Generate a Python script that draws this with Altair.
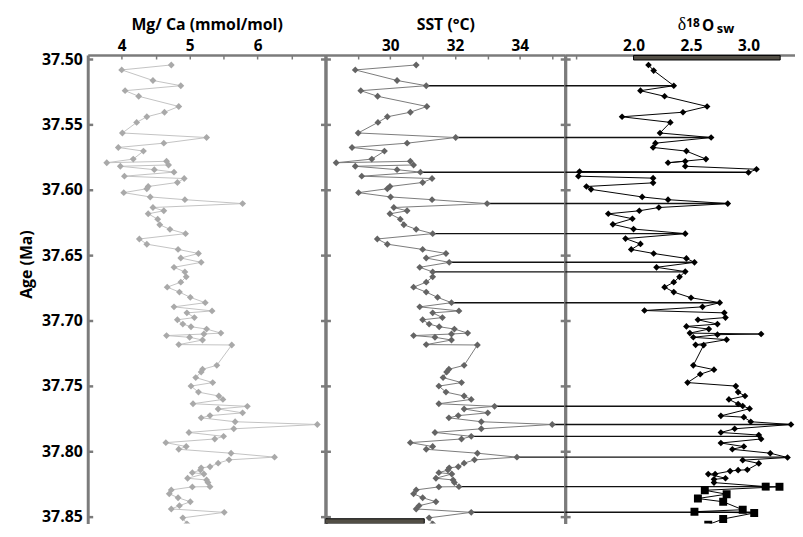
import altair as alt
import pandas as pd

# ---------------- data ----------------
age = [37.5042, 37.5080, 37.5161, 37.5201, 37.5239, 37.5282, 37.5360, 37.5404, 37.5439, 37.5482,
       37.5563, 37.5598, 37.5641, 37.5674, 37.5702, 37.5763, 37.5791, 37.5780, 37.5808, 37.5818,
       37.5844, 37.5863, 37.5894, 37.5912, 37.5942, 37.5973, 37.5990, 37.6020, 37.6053, 37.6074,
       37.6104, 37.6134, 37.6159, 37.6182, 37.6223, 37.6266, 37.6301, 37.6334, 37.6375, 37.6415,
       37.6455, 37.6486, 37.6521, 37.6554, 37.6592, 37.6627, 37.6665, 37.6706, 37.6744, 37.6782,
       37.6822, 37.6863, 37.6895, 37.6926, 37.6941, 37.6977, 37.6994, 37.7027, 37.7047, 37.7065,
       37.7096, 37.7103, 37.7115, 37.7128, 37.7149, 37.7184, 37.7187, 37.7343, 37.7373, 37.7394,
       37.7437, 37.7475, 37.7502, 37.7548, 37.7578, 37.7604, 37.7637, 37.7657, 37.7677, 37.7707,
       37.7728, 37.7745, 37.7775, 37.7796, 37.7829, 37.7857, 37.7887, 37.7907, 37.7935, 37.7965,
       37.7986, 37.8016, 37.8046, 37.8067, 37.8092, 37.8120, 37.8128, 37.8145, 37.8165, 37.8175,
       37.8208, 37.8221, 37.8241, 37.8272, 37.8274, 37.8297, 37.8327, 37.8357, 37.8388, 37.8418,
       37.8443, 37.8469, 37.8511, 37.8557]

mgca = [4.73, 4.00, 4.46, 4.87, 4.05, 4.25, 4.84, 4.63, 4.37, 4.22,
        4.01, 5.25, 4.62, 3.95, 4.32, 4.17, 3.78, 4.66, 4.69, 3.98,
        4.48, 4.77, 4.04, 4.92, 4.82, 4.39, 4.37, 4.03, 4.42, 4.93,
        5.78, 4.46, 4.62, 4.39, 4.53, 4.56, 4.71, 4.94, 4.26, 4.37,
        4.83, 5.13, 4.87, 5.17, 4.77, 4.93, 4.95, 4.87, 4.67, 4.85,
        5.01, 5.23, 4.77, 5.33, 4.96, 5.07, 4.82, 4.90, 5.02, 5.25,
        5.46, 5.21, 4.66, 5.00, 5.19, 4.84, 5.62, 5.40, 5.19, 5.17,
        5.09, 5.34, 5.02, 5.13, 5.43, 5.49, 5.05, 5.85, 5.42, 5.78,
        5.30, 5.17, 5.67, 6.88, 5.65, 4.99, 5.50, 5.37, 4.65, 4.95,
        4.84, 5.61, 6.25, 5.58, 5.42, 5.30, 5.17, 5.16, 5.04, 5.21,
        4.97, 5.25, 5.27, 5.30, 5.04, 4.73, 4.70, 4.83, 5.01, 4.85,
        4.73, 5.51, 4.90, 4.96]

sst = [30.80, 28.92, 30.21, 31.11, 29.09, 29.61, 31.13, 30.62, 29.91, 29.62,
       29.01, 32.02, 30.52, 28.82, 29.82, 29.43, 28.33, 30.62, 30.72, 28.92,
       30.21, 30.93, 29.12, 31.29, 31.00, 29.99, 29.91, 29.02, 30.01, 31.29,
       32.99, 30.11, 30.52, 29.99, 30.31, 30.42, 30.80, 31.31, 29.60, 29.91,
       31.00, 31.72, 31.11, 31.82, 30.91, 31.31, 31.31, 31.11, 30.72, 31.11,
       31.46, 31.89, 30.91, 32.12, 31.31, 31.61, 31.00, 31.20, 31.51, 31.98,
       32.39, 31.89, 30.72, 31.38, 31.89, 31.11, 32.69, 32.28, 31.81, 31.74,
       31.63, 32.20, 31.50, 31.72, 32.28, 32.50, 31.50, 33.22, 32.28, 33.01,
       32.10, 31.81, 32.81, 35.00, 32.81, 31.38, 32.50, 32.20, 30.62, 31.31,
       31.11, 32.69, 33.91, 32.60, 32.28, 32.10, 31.82, 31.78, 31.50, 31.90,
       31.41, 31.94, 31.98, 32.12, 31.50, 30.80, 30.72, 31.00, 31.41, 30.89,
       30.80, 32.50, 31.20, 31.31]

d18o_age = [37.5042, 37.5085, 37.5201, 37.5239, 37.5282, 37.5360, 37.5404, 37.5439, 37.5482, 37.5563,
            37.5598, 37.5641, 37.5674, 37.5702, 37.5763, 37.5791, 37.5780, 37.5818, 37.5841, 37.5866,
            37.5858, 37.5894, 37.5909, 37.5945, 37.5973, 37.5995, 37.6053, 37.6074, 37.6104, 37.6134,
            37.6159, 37.6182, 37.6220, 37.6263, 37.6299, 37.6334, 37.6372, 37.6413, 37.6455, 37.6486,
            37.6524, 37.6554, 37.6592, 37.6625, 37.6665, 37.6706, 37.6744, 37.6782, 37.6825, 37.6863,
            37.6895, 37.6923, 37.6941, 37.6977, 37.6994, 37.7027, 37.7045, 37.7065, 37.7096, 37.7103,
            37.7108, 37.7128, 37.7146, 37.7186, 37.7188, 37.7343, 37.7376, 37.7411, 37.7475, 37.7502,
            37.7548, 37.7578, 37.7604, 37.7639, 37.7654, 37.7675, 37.7730, 37.7740, 37.7775, 37.7796,
            37.7829, 37.7857, 37.7877, 37.7907, 37.7938, 37.7965, 37.7986, 37.8016, 37.8049, 37.8069,
            37.8094, 37.8143, 37.8146, 37.8153, 37.8175, 37.8176, 37.8208, 37.8216, 37.8241, 37.8272,
            37.8273, 37.8300, 37.8330, 37.8363, 37.8388, 37.8449, 37.8464, 37.8474, 37.8520, 37.8563]

d18o = [2.13, 2.175, 2.35, 2.06, 2.27, 2.64, 2.43, 1.90, 2.32, 2.23,
        2.675, 2.19, 2.17, 2.46, 2.63, 2.30, 2.45, 2.45, 3.07, 3.00,
        1.53, 1.52, 2.17, 2.17, 1.59, 1.63, 2.075, 2.30, 2.82, 2.22,
        2.05, 1.78, 1.99, 1.82, 2.00, 2.45, 1.93, 2.06, 1.98, 2.175,
        2.46, 2.53, 2.20, 2.45, 2.40, 2.35, 2.27, 2.35, 2.50, 2.75,
        2.60, 2.095, 2.79, 2.80, 2.56, 2.73, 2.46, 2.655, 2.49, 3.11,
        2.73, 2.52, 2.81, 2.54, 2.61, 2.52, 2.70, 2.58, 2.47, 2.89,
        2.91, 2.97, 2.83, 2.91, 2.95, 3.01, 2.76, 2.96, 3.02, 3.37,
        2.88, 2.76, 3.09, 3.11, 2.76, 2.96, 2.86, 3.19, 3.34, 2.95,
        3.09, 2.99, 2.91, 2.84, 2.71, 2.65, 2.80, 2.70, 2.70, 3.15,
        3.27, 2.62, 2.81, 2.56, 2.78, 2.95, 2.53, 3.05, 2.78, 2.65]

d18o_marker = ["diamond"] * 99 + ["square"] * 11

link_age = [37.5201, 37.5598, 37.5864, 37.6104, 37.6334, 37.6554, 37.6627,
            37.6863, 37.7657, 37.7796, 37.7887, 37.8046, 37.8272, 37.8469]
link_sst = [31.11, 32.02, 30.93, 32.99, 31.31, 31.82, 31.31,
            31.89, 33.22, 35.00, 32.50, 33.91, 32.12, 32.50]
link_d18o = [2.35, 2.675, 3.00, 2.82, 2.45, 2.53, 2.45,
             2.75, 2.95, 3.37, 3.10, 3.34, 3.15, 3.05]

# axis ranges, ticks and labels (the picture is cut just below 37.85 Ma)
age_range = [37.4966, 37.8555]
y_ticks = [37.50, 37.55, 37.60, 37.65, 37.70, 37.75, 37.80, 37.85]
mg_range = [3.5, 7.0]
mg_labels = [4, 5, 6]
mg_ticks = [4.0, 4.5, 5.0, 5.5, 6.0, 6.5]
sst_range = [28.0, 35.4]
sst_labels = [30, 32, 34]
sst_ticks = [29, 30, 31, 32, 33, 34, 35]
d_range = [1.405, 3.405]
d_labels = [2.0, 2.5, 3.0]
d_ticks = [1.5, 2.0, 2.5, 3.0]

# the two dark bars (the SST one sits on the cut lower edge)
sst_bar_x = [28.0, 31.05]
sst_bar_age = [37.8518, 37.8555]
d_bar_x = [2.0, 3.276]
d_bar_age = [37.4969, 37.5004]

# title pieces of the third panel: "δ", "18", "O", "sw"
d_title_text = ["\u03b4", "18", "O", "sw"]
d_title_at = [2.385, 2.458, 2.595, 2.725]   # anchor of each piece, in δ18O units

# ---------------- styling ----------------
H = 473
W1, W2, W3 = 240, 242, 232
FRAME = "#7b7b7b"
FONT = "Open Sans"
C_MG_LINE, C_MG_PT = "#c2c2c2", "#a9a9a9"
C_SST_LINE, C_SST_PT = "#7a7a7a", "#646464"
BAR_FILL = "#524e45"


def yscale():
    return alt.Scale(domain=age_range, reverse=True, nice=False, zero=False)


def xscale(dom):
    return alt.Scale(domain=dom, nice=False, zero=False)


def frame_layers(df, dom, ticks, W, right_edge=True):
    common = dict(labels=False, grid=False, ticks=True, tickColor=FRAME,
                  domainColor=FRAME, title=None)
    # top edge (ticks pointing down) + left edge (ticks pointing right)
    a = alt.Chart(df).mark_point(opacity=0).encode(
        x=alt.X("v:Q", scale=xscale(dom),
                axis=alt.Axis(orient="bottom", offset=-H, values=ticks, domain=True,
                              domainWidth=2.5, tickSize=4, tickWidth=1.5, **common)),
        y=alt.Y("age:Q", scale=yscale(),
                axis=alt.Axis(orient="right", offset=-W, values=y_ticks, domain=True,
                              domainWidth=3, tickSize=5, tickWidth=2.5, **common)),
    )
    layers = [a]
    if right_edge:
        # right edge (ticks pointing left)
        b = alt.Chart(df).mark_point(opacity=0).encode(
            x=alt.X("v:Q", scale=xscale(dom), axis=None),
            y=alt.Y("age:Q", scale=yscale(),
                    axis=alt.Axis(orient="left", offset=-W, values=y_ticks, domain=True,
                                  domainWidth=3, tickSize=5, tickWidth=2.5, **common)),
        )
        layers.append(b)
    return layers


def top_axis(labels, title, fmt):
    kw = dict(orient="top", values=labels, ticks=False, domain=False, grid=False,
              labelPadding=2, labelFontSize=15.5, format=fmt,
              titlePadding=6, titleFontSize=16)
    if title is None:
        return alt.Axis(title=None, **kw)
    return alt.Axis(title=title, **kw)


NOAX = None

# ---------------- panel 1: Mg/Ca ----------------
mg_df = pd.DataFrame({"age": age, "v": mgca, "i": list(range(len(age)))})
p1_line = alt.Chart(mg_df).mark_line(color=C_MG_LINE, strokeWidth=1, clip=True).encode(
    x=alt.X("v:Q", scale=xscale(mg_range), axis=top_axis(mg_labels, "Mg/ Ca (mmol/mol)", "d")),
    y=alt.Y("age:Q", scale=yscale(),
            axis=alt.Axis(orient="left", values=y_ticks, format=".2f", ticks=False,
                          domain=False, grid=False, labelPadding=5.5, labelFontSize=16,
                          title="Age (Ma)", titleFontSize=16, titleAngle=270,
                          titleX=-62, titleY=211, titleAlign="center",
                          titleBaseline="middle")),
    order="i:Q",
)
p1_pts = alt.Chart(mg_df).mark_point(shape="diamond", filled=True, size=48,
                                     color=C_MG_PT, opacity=1, clip=True).encode(
    x=alt.X("v:Q", scale=xscale(mg_range), axis=NOAX),
    y=alt.Y("age:Q", scale=yscale(), axis=NOAX),
)
p1 = alt.layer(p1_line, p1_pts, *frame_layers(mg_df, mg_range, mg_ticks, W1)).resolve_axis(
    x="independent", y="independent").properties(width=W1, height=H)

# ---------------- panel 2: SST ----------------
sst_df = pd.DataFrame({"age": age, "v": sst, "i": list(range(len(age)))})
link2_df = pd.DataFrame({"age": link_age, "v": link_sst, "v2": [sst_range[1]] * len(link_age)})
bar2_df = pd.DataFrame({"v": [sst_bar_x[0]], "v2": [sst_bar_x[1]],
                        "age": [sst_bar_age[0]], "age2": [sst_bar_age[1]]})
p2_line = alt.Chart(sst_df).mark_line(color=C_SST_LINE, strokeWidth=1, clip=True).encode(
    x=alt.X("v:Q", scale=xscale(sst_range), axis=top_axis(sst_labels, "SST (\u00b0C)", "d")),
    y=alt.Y("age:Q", scale=yscale(), axis=NOAX),
    order="i:Q",
)
p2_pts = alt.Chart(sst_df).mark_point(shape="diamond", filled=True, size=48,
                                      color=C_SST_PT, opacity=1, clip=True).encode(
    x=alt.X("v:Q", scale=xscale(sst_range), axis=NOAX),
    y=alt.Y("age:Q", scale=yscale(), axis=NOAX),
)
p2_links = alt.Chart(link2_df).mark_rule(color="#111111", strokeWidth=1.5, clip=True).encode(
    x=alt.X("v:Q", scale=xscale(sst_range), axis=NOAX),
    x2="v2:Q",
    y=alt.Y("age:Q", scale=yscale(), axis=NOAX),
)
p2_bar = alt.Chart(bar2_df).mark_rect(fill=BAR_FILL, stroke="black", strokeWidth=1, clip=True).encode(
    x=alt.X("v:Q", scale=xscale(sst_range), axis=NOAX), x2="v2:Q",
    y=alt.Y("age:Q", scale=yscale(), axis=NOAX), y2="age2:Q",
)
p2 = alt.layer(p2_links, p2_line, p2_pts, p2_bar,
               *frame_layers(sst_df, sst_range, sst_ticks, W2)).resolve_axis(
    x="independent", y="independent").properties(width=W2, height=H)

# ---------------- panel 3: d18O sw ----------------
d_df = pd.DataFrame({"age": d18o_age, "v": d18o, "m": d18o_marker,
                     "i": list(range(len(d18o_age)))})
link3_df = pd.DataFrame({"age": link_age, "v": [d_range[0]] * len(link_age), "v2": link_d18o})
bar3_df = pd.DataFrame({"v": [d_bar_x[0]], "v2": [d_bar_x[1]],
                        "age": [d_bar_age[0]], "age2": [d_bar_age[1]]})
p3_line = alt.Chart(d_df).mark_line(color="black", strokeWidth=1, clip=True).encode(
    x=alt.X("v:Q", scale=xscale(d_range), axis=top_axis(d_labels, None, ".1f")),
    y=alt.Y("age:Q", scale=yscale(), axis=NOAX),
    order="i:Q",
)
p3_dia = alt.Chart(d_df).transform_filter(alt.datum.m == "diamond").mark_point(
    shape="diamond", filled=True, size=45, color="black", opacity=1, clip=True).encode(
    x=alt.X("v:Q", scale=xscale(d_range), axis=NOAX),
    y=alt.Y("age:Q", scale=yscale(), axis=NOAX),
)
p3_sq = alt.Chart(d_df).transform_filter(alt.datum.m == "square").mark_point(
    shape="square", filled=True, size=64, color="black", opacity=1, clip=True).encode(
    x=alt.X("v:Q", scale=xscale(d_range), axis=NOAX),
    y=alt.Y("age:Q", scale=yscale(), axis=NOAX),
)
p3_links = alt.Chart(link3_df).mark_rule(color="#111111", strokeWidth=1.5, clip=True).encode(
    x=alt.X("v:Q", scale=xscale(d_range), axis=NOAX),
    x2="v2:Q",
    y=alt.Y("age:Q", scale=yscale(), axis=NOAX),
)
p3_bar = alt.Chart(bar3_df).mark_rect(fill=BAR_FILL, stroke="black", strokeWidth=1).encode(
    x=alt.X("v:Q", scale=xscale(d_range), axis=NOAX), x2="v2:Q",
    y=alt.Y("age:Q", scale=yscale(), axis=NOAX), y2="age2:Q",
)

one = pd.DataFrame({"k": [0]})


def title_piece(k, font, size, weight, dy):
    return alt.Chart(one).mark_text(
        text=d_title_text[k], font=font, fontSize=size, fontWeight=weight,
        align="left", baseline="alphabetic", color="black").encode(
        x=alt.X(datum=d_title_at[k], scale=xscale(d_range), axis=None),
        y=alt.value(dy))


t_delta = title_piece(0, "Liberation Serif", 18, "normal", -25)
t_18 = title_piece(1, FONT, 12, "bold", -28.5)
t_O = title_piece(2, FONT, 15.5, "bold", -24)
t_sw = title_piece(3, FONT, 13, "bold", -22)

p3 = alt.layer(p3_links, p3_line, p3_dia, p3_sq, p3_bar,
               *frame_layers(d_df, d_range, d_ticks, W3, right_edge=False),
               t_delta, t_18, t_O, t_sw).resolve_axis(
    x="independent", y="independent").properties(width=W3, height=H)

chart = alt.hconcat(p1, p2, p3, spacing=0, bounds="flush").properties(
    padding={"left": 10.5, "top": 6, "right": 0, "bottom": 0}
).configure_view(
    stroke="transparent", strokeWidth=0
).configure_axis(
    labelFont=FONT, labelFontWeight="bold", labelColor="black",
    titleFont=FONT, titleFontWeight="bold", titleColor="black",
)

chart.save("out.html", embed_options={"renderer": "svg", "actions": False})
